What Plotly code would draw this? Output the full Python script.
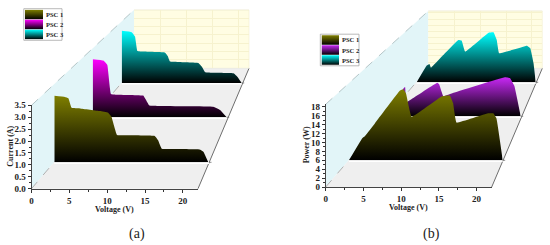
import plotly.graph_objects as go

W, H = 550, 245
SERIES = ["PSC 1", "PSC 2", "PSC 3"]
VOLT_TICKS = [0, 5, 10, 15, 20]
CURRENT_TICKS = [0, 0.5, 1, 1.5, 2, 2.5, 3, 3.5]
CURRENT_LABELS = ["0.0", "0.5", "1.0", "1.5", "2.0", "2.5", "3.0", "3.5"]
POWER_TICKS = [0, 2, 4, 6, 8, 10, 12, 14, 16, 18]

# Panel (a): current against voltage
v_a1 = [0, 1.51, 2.0, 2.46, 3.65, 6.48, 7.66, 8.13, 8.94, 10.27, 14.28, 14.76, 15.3, 16.9, 20.66, 21.2, 21.9]
i_a1 = [3.0, 2.95, 2.89, 2.46, 2.43, 2.31, 2.24, 2.06, 1.23, 1.22, 1.19, 1.0, 0.61, 0.6, 0.58, 0.48, 0]
v_a2 = [0, 1.75, 2.4, 3.0, 3.94, 8.3, 8.75, 9.3, 10.5, 19.8, 20.9, 22]
i_a2 = [3.03, 2.96, 2.73, 1.22, 1.18, 1.13, 0.9, 0.61, 0.59, 0.55, 0.38, 0]
v_a3 = [0, 1.83, 2.44, 2.87, 3.97, 7.95, 8.44, 8.86, 10.1, 14.06, 14.7, 15.3, 16.8, 20.5, 21.2, 22]
i_a3 = [3.04, 2.96, 2.71, 1.87, 1.83, 1.77, 1.58, 1.25, 1.23, 1.17, 0.95, 0.63, 0.6, 0.57, 0.37, 0]

# Panel (b): power against voltage
v_b1 = [0, 1.9, 2.3, 3.72, 7.3, 7.77, 8.15, 8.97, 13.26, 14.45, 14.9, 15.4, 19.9, 20.65, 21.1, 22]
p_b1 = [0, 5.35, 5.9, 9.0, 16.95, 17.27, 16.3, 10.6, 15.5, 15.7, 13.9, 9.16, 11.4, 11.4, 10.2, 0]
v_b2 = [0, 2.4, 3.0, 3.2, 3.97, 8.3, 8.6, 9.3, 10.5, 19.4, 20.25, 20.96, 22]
p_b2 = [0, 7.0, 8.3, 3.9, 4.7, 9.4, 9.0, 5.6, 6.3, 10.9, 10.65, 8.5, 0]
v_b3 = [0, 1.85, 2.35, 2.65, 4.63, 7.7, 8.3, 8.95, 13.3, 14.2, 14.8, 15.25, 20.4, 21, 21.6, 22]
p_b3 = [0, 5.24, 5.77, 4.6, 8.07, 13.3, 13.1, 9.64, 15.6, 15.7, 13.3, 9.1, 11.5, 10.7, 6, 0]

FONT = "Liberation Serif"
COL_A = ["#7F7F00", "#FF00FF", "#00FFFF"]
COL_B = ["#7F7F00", "#C828F5", "#00FFFF"]

layout = {}
traces = []
shapes = []
annotations = []
axis_n = [0]


def px(x):
    return x / W


def py(y):
    return (H - y) / H


def new_axes(x0, x1, y_top, y_bottom, xrange, yrange, xopts=None, yopts=None):
    axis_n[0] += 1
    n = axis_n[0]
    sfx = "" if n == 1 else str(n)
    base_x = dict(domain=[px(x0), px(x1)], range=xrange, anchor="y" + sfx, fixedrange=True, automargin=False,
                  visible=False, showgrid=False, zeroline=False)
    base_y = dict(domain=[py(y_bottom), py(y_top)], range=yrange, anchor="x" + sfx, fixedrange=True, automargin=False,
                  visible=False, showgrid=False, zeroline=False)
    base_x.update(xopts or {})
    base_y.update(yopts or {})
    layout["xaxis" + sfx] = base_x
    layout["yaxis" + sfx] = base_y
    return "x" + sfx, "y" + sfx


def blank(xa, ya):
    # an axis is only drawn when a trace uses it
    traces.append(go.Scatter(x=[0], y=[0], xaxis=xa, yaxis=ya, mode="markers", marker=dict(opacity=0, size=1),
                             showlegend=False, hoverinfo="skip"))


def poly(pts, fill, line=None, dash=None, lw=0.8):
    path = "M " + " L ".join(f"{px(x):.5f},{py(y):.5f}" for x, y in pts) + " Z"
    shapes.append(dict(type="path", xref="paper", yref="paper", path=path, fillcolor=fill, layer="below",
                       line=dict(color=line or "rgba(0,0,0,0)", width=lw if line else 0, dash=dash or "solid")))


def seg(a, b, color, width=1, dash="solid"):
    shapes.append(dict(type="line", xref="paper", yref="paper", layer="below",
                       x0=px(a[0]), y0=py(a[1]), x1=px(b[0]), y1=py(b[1]),
                       line=dict(color=color, width=width, dash=dash)))


def label(x, y, text, size=8, angle=0, bold=True, xanchor="center"):
    font = dict(family=FONT, size=size, color="#222222")
    if bold:
        font["weight"] = "bold"
    annotations.append(dict(xref="paper", yref="paper", x=px(x), y=py(y), text=text, showarrow=False,
                            xanchor=xanchor, yanchor="middle", textangle=angle, font=font))


def panel(front, back, planes, data, colors, ymax, yticks, ylabels, ydtick_minor, ytitle, ytitle_x, xtitle_pos,
          leg, tag, tag_x):
    fx0, fx1, fb, ft = front
    bx0, bx1, bb, bt = back
    # walls and floor
    poly([(fx0, fb), (fx0, ft), (bx0, bt), (bx0, bb)], "#E2F5F8")
    poly([(bx0, bb), (bx0, bt), (bx1, bt), (bx1, bb)], "#FFFDE3")
    poly([(fx0, fb), (bx0, bb), (bx1, bb), (fx1, fb)], "#EFEFEF")
    seg((fx0, ft), (bx0, bt), "#AEBFC2", 0.9, "dash")
    seg((fx0, fb), (bx0, bb), "#A8A8A8", 0.9, "dash")
    seg((bx0, bt), (bx1, bt), "#E8E4C4", 0.7)
    seg((bx1, bb), (bx1 + 0, bt), "#F2EFD0", 0.6)
    seg((fx1, fb), (bx1, bb), "#6E6E6E", 1)
    seg((bx0, bb), (bx1, bb), "#E4E4D8", 0.6)

    # back wall grid
    xa, ya = new_axes(bx0, bx1, bt, bb, [0, 22], [0, ymax],
                      dict(visible=True, showline=False, showticklabels=False, ticks="", showgrid=True,
                           gridcolor="#F6F2CE", gridwidth=0.7, tickvals=VOLT_TICKS),
                      dict(visible=True, showline=False, showticklabels=False, ticks="", showgrid=True,
                           gridcolor="#F6F2CE", gridwidth=0.7, tickvals=yticks))
    blank(xa, ya)

    # series, from the back plane to the front plane
    for idx in (2, 1, 0):
        x0, x1, base, scale = planes[idx]
        seg((x0, base + 0.8), (x1, base + 0.8), "#FFFFFF", 1.6)
        seg((x1, base), (x1 + 2.5, base), "#6E6E6E", 0.8)
        top = base - (fb - ft) * scale
        xa, ya = new_axes(x0, x1, top, base, [0, 22], [0, ymax])
        xs, ys = data[idx]
        traces.append(go.Scatter(x=xs, y=ys, xaxis=xa, yaxis=ya, mode="lines", name=SERIES[idx],
                                 line=dict(width=0, shape="spline", smoothing=0.25), fill="tozeroy",
                                 fillgradient=dict(type="vertical",
                                                   colorscale=[[0, "#000000"], [1, colors[idx]]]),
                                 showlegend=False, hoverinfo="skip"))

    # front axes that carry the scales
    xa, ya = new_axes(fx0, fx1, ft, fb, [0, 22], [0, ymax],
             dict(visible=True, showline=True, linecolor="#444444", linewidth=1, ticks="outside", ticklen=3,
                  tickcolor="#333333", tickwidth=0.8, tickvals=VOLT_TICKS,
                  minor=dict(ticks="outside", ticklen=2, tickcolor="#333333", tickwidth=0.7, dtick=2.5, tick0=0),
                  tickfont=dict(family=FONT, size=9, color="#222222", weight="bold")),
             dict(visible=True, showline=True, linecolor="#444444", linewidth=1, ticks="outside", ticklen=3,
                  tickcolor="#333333", tickwidth=0.8, tickvals=yticks, ticktext=ylabels,
                  minor=dict(ticks="outside", ticklen=2, tickcolor="#333333", tickwidth=0.7, dtick=ydtick_minor,
                             tick0=0),
                  tickfont=dict(family=FONT, size=9, color="#222222", weight="bold")))
    blank(xa, ya)
    label(xtitle_pos[0], xtitle_pos[1], "Voltage (V)")
    label(ytitle_x, (fb + ft) / 2 - 1, ytitle, angle=-90)

    # legend box
    lx0, lx1, sx1, ly0, ly1 = leg
    xa, ya = new_axes(lx0, sx1, ly0, ly1, [0, 1], [3, 0])
    poly([(lx0 - 1.2, ly0 - 0.8), (lx1, ly0 - 0.8), (lx1, ly1 + 0.8), (lx0 - 1.2, ly1 + 0.8)], "#FFFFFF",
         line="#A8A8A8", lw=0.8)
    for i, name in enumerate(SERIES):
        traces.append(go.Scatter(x=[0, 1, 1, 0, 0], y=[i + 0.02, i + 0.02, i + 0.98, i + 0.98, i + 0.02],
                                 xaxis=xa, yaxis=ya, mode="lines", line=dict(width=0), fill="toself", name=name,
                                 fillgradient=dict(type="vertical",
                                                   colorscale=[[0, "#000000"], [1, colors[i]]]),
                                 showlegend=False, hoverinfo="skip"))
        label(sx1 + 1, ly0 + (ly1 - ly0) * (i + 0.5) / 3, name, size=6.5, xanchor="left")

    label(tag_x, 233.5, tag, size=14, bold=False)


panel(front=(31.5, 198, 188.7, 105.3), back=(134, 249, 68.3, 10),
      planes=[(54.3, 209, 162.3, 0.93), (92.7, 226.7, 117.3, 0.805), (121.7, 241.7, 83, 0.72)],
      data=[(v_a1, i_a1), (v_a2, i_a2), (v_a3, i_a3)], colors=COL_A, ymax=3.5,
      yticks=CURRENT_TICKS, ylabels=CURRENT_LABELS, ydtick_minor=0.25, ytitle="Current (A)", ytitle_x=9.7,
      xtitle_pos=(114, 209.5), leg=(25, 62, 43, 9.5, 39.5), tag="(a)", tag_x=137)

panel(front=(325.7, 491.7, 187, 104.3), back=(428.3, 542.3, 68.3, 11),
      planes=[(349, 502.7, 160.3, 0.926), (386.8, 520.7, 116.3, 0.804), (416.7, 535.7, 82.3, 0.716)],
      data=[(v_b1, p_b1), (v_b2, p_b2), (v_b3, p_b3)], colors=COL_B, ymax=18.6,
      yticks=POWER_TICKS, ylabels=[str(t) for t in POWER_TICKS], ydtick_minor=1, ytitle="Power (W)", ytitle_x=306.7,
      xtitle_pos=(408.5, 207), leg=(321.5, 359, 339, 35, 65), tag="(b)", tag_x=431)

fig = go.Figure(data=traces)
fig.update_layout(width=W, height=H, margin=dict(l=0, r=0, t=0, b=0, autoexpand=False), paper_bgcolor="#FFFFFF",
                  plot_bgcolor="rgba(0,0,0,0)", showlegend=False, shapes=shapes, annotations=annotations, **layout)
fig.write_html("out.html", config=dict(displayModeBar=False),
               post_script="document.body.style.margin='0';document.documentElement.style.overflow='hidden';")
